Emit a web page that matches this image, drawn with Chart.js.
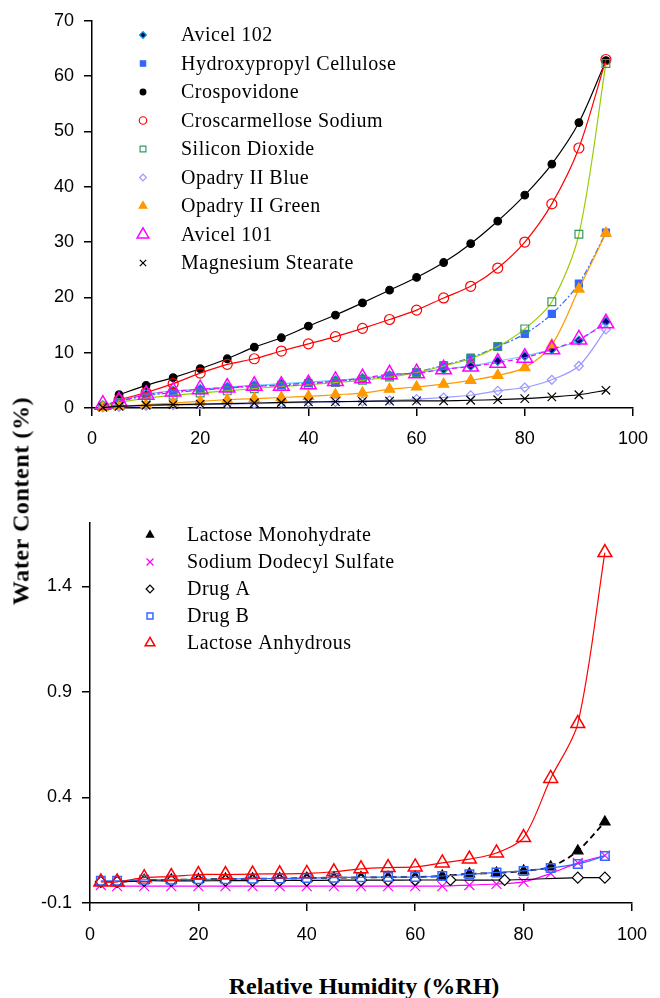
<!DOCTYPE html>
<html><head><meta charset="utf-8">
<script src="https://cdn.jsdelivr.net/npm/chart.js@4.4.0/dist/chart.umd.min.js"></script>
<style>
html,body{margin:0;padding:0;background:#fff;}
#wrap{position:relative;width:660px;height:998px;overflow:hidden;background:#fff;}
#c1{position:absolute;left:0;top:0;}
#c2{position:absolute;left:0;top:460px;}
.ytitle{position:absolute;left:21px;top:501px;transform:translate(-50%,-50%) rotate(-90deg);font:bold 24px "Liberation Serif";letter-spacing:0.6px;white-space:nowrap;color:#000;}
.xtitle{position:absolute;left:364px;top:986px;transform:translate(-50%,-50%);font:bold 24px "Liberation Serif";white-space:nowrap;color:#000;}
</style></head>
<body><div id="wrap">
<canvas id="c1" width="660" height="460"></canvas>
<canvas id="c2" width="660" height="500"></canvas>
<div class="ytitle">Water Content (%)</div>
<div class="xtitle">Relative Humidity (%RH)</div>
</div>
<script>
// ---------- top panel data ----------
const rhTop = [2,5,10,15,20,25,30,35,40,45,50,55,60,65,70,75,80,85,90,95];
const avicel102      = [0.5,1.3,2.5,3.1,3.4,3.8,4.1,4.4,4.7,5.0,5.4,5.9,6.4,7.0,7.6,8.5,9.4,10.6,12.2,15.6];
const hydroxypropyl  = [0.4,1.2,2.2,2.8,3.2,3.6,3.9,4.2,4.5,4.8,5.2,5.8,6.5,7.7,9.1,11.1,13.4,17.0,22.5,31.7];
const crospovidone   = [null,2.4,4.1,5.5,7.1,8.9,11.0,12.7,14.8,16.8,19.0,21.3,23.6,26.3,29.7,33.8,38.5,44.1,51.6,62.8];
const croscarmellose = [null,1.5,2.8,4.4,6.3,7.9,8.9,10.3,11.6,12.9,14.4,16.0,17.7,19.9,22.0,25.3,30.0,36.9,47.0,63.0];
const siliconDioxide = [0.3,1.0,1.8,2.3,2.7,3.1,3.5,3.9,4.2,4.6,5.0,5.6,6.4,7.6,8.9,11.1,14.3,19.2,31.4,62.3];
const opadryBlue     = [0.1,0.2,0.4,0.5,0.6,0.7,0.8,0.9,1.0,1.1,1.2,1.4,1.6,1.9,2.3,3.1,3.7,5.1,7.6,14.2];
const opadryGreen    = [0.1,0.3,0.6,0.9,1.2,1.5,1.7,1.9,2.1,2.4,2.7,3.4,3.8,4.3,5.0,5.9,7.3,11.4,21.5,31.6];
const avicel101      = [0.6,1.2,2.4,3.0,3.4,3.7,4.0,4.0,4.3,4.9,5.4,6.1,6.3,7.0,7.5,8.2,9.1,10.6,12.4,15.3];
const mgStearate     = [0.1,0.3,0.5,0.6,0.7,0.8,0.9,1.0,1.1,1.15,1.2,1.25,1.3,1.3,1.4,1.5,1.7,2.0,2.4,3.2];
const topXTicks = [0,20,40,60,80,100];
const topYTicks = [0,10,20,30,40,50,60,70];

// ---------- bottom panel data ----------
const rhBot = [2,5,10,15,20,25,30,35,40,45,50,55,60,65,70,75,80,85,90,95];
const rhDrugA = [2,5,10,15,20,25,30,35,40,45,50,55,60,66.5,76.5,90,95];
const lactoseMono = [0.0,0.0,0.008,0.01,0.012,0.014,0.015,0.016,0.018,0.02,0.021,0.022,0.023,0.028,0.038,0.042,0.052,0.071,0.147,0.284];
const sds         = [-0.015,-0.02,-0.02,-0.02,-0.02,-0.02,-0.02,-0.02,-0.02,-0.02,-0.02,-0.02,-0.02,-0.02,-0.015,-0.01,0.0,0.04,0.09,0.125];
const drugA       = [0.0,0.0,0.005,0.005,0.005,0.006,0.006,0.007,0.007,0.008,0.008,0.008,0.009,0.009,0.009,0.02,0.02];
const drugB       = [0.005,0.005,0.01,0.01,0.012,0.013,0.015,0.016,0.018,0.02,0.022,0.023,0.023,0.028,0.036,0.045,0.052,0.066,0.085,0.123];
const lactoseAnhy = [0.0,0.0,0.02,0.025,0.035,0.035,0.037,0.038,0.04,0.048,0.062,0.068,0.071,0.09,0.108,0.137,0.21,0.49,0.75,1.56];
const botXTicks = [0,20,40,60,80,100];
const botYTicks = [-0.1,0.4,0.9,1.4];

function pts(xs, ys){ return xs.map((x,i)=>({x:x, y:ys[i]})).filter(p=>p.y!==null); }

function ds(label, xs, ys, o){
  return Object.assign({
    label: label, data: pts(xs, ys), showLine: true, tension: 0.3,
    borderWidth: 1.2, pointBorderWidth: 1.2, clip: false, fill: false
  }, o);
}

const topSets = [
  ds('Avicel 102', rhTop, avicel102, {borderColor:'#66ccff', pointStyle:'rectRot', pointRadius:4.5, pointBackgroundColor:'#000080', pointBorderColor:'#00a0c0'}),
  ds('Hydroxypropyl Cellulose', rhTop, hydroxypropyl, {borderColor:'#3366ff', borderDash:[6,2,2,2], pointStyle:'rect', pointRadius:5, pointBackgroundColor:'#3366ff', pointBorderColor:'#3366ff'}),
  ds('Crospovidone', rhTop, crospovidone, {borderColor:'#000000', pointStyle:'circle', pointRadius:3.8, pointBackgroundColor:'#000000', pointBorderColor:'#000000'}),
  ds('Croscarmellose Sodium', rhTop, croscarmellose, {borderColor:'#ff0000', pointStyle:'circle', pointRadius:5, pointBackgroundColor:'rgba(255,255,255,0)', pointBorderColor:'#ff0000'}),
  ds('Silicon Dioxide', rhTop, siliconDioxide, {borderColor:'#99cc00', pointStyle:'rect', pointRadius:5.5, pointBackgroundColor:'rgba(255,255,255,0)', pointBorderColor:'#339966'}),
  ds('Opadry II Blue', rhTop, opadryBlue, {borderColor:'#9999ff', pointStyle:'rectRot', pointRadius:4.5, pointBackgroundColor:'rgba(255,255,255,0)', pointBorderColor:'#9999ff'}),
  ds('Opadry II Green', rhTop, opadryGreen, {borderColor:'#ff9900', pointStyle:'triangle', pointRadius:6, pointBackgroundColor:'#ff9900', pointBorderColor:'#ff9900'}),
  ds('Avicel 101', rhTop, avicel101, {borderColor:'#ff00ff', borderDash:[5,3], pointStyle:'triangle', pointRadius:9, pointBackgroundColor:'rgba(255,255,255,0)', pointBorderColor:'#ff00ff', pointBorderWidth:1.5}),
  ds('Magnesium Stearate', rhTop, mgStearate, {borderColor:'#000000', pointStyle:'crossRot', pointRadius:6, pointBackgroundColor:'#000000', pointBorderColor:'#000000'})
];
const botSets = [
  ds('Lactose Monohydrate', rhBot, lactoseMono, {borderColor:'#000000', borderWidth:1.8, borderDash:[6,4], pointStyle:'triangle', pointRadius:6, pointBackgroundColor:'#000000', pointBorderColor:'#000000'}),
  ds('Sodium Dodecyl Sulfate', rhBot, sds, {borderColor:'#ff00ff', pointStyle:'crossRot', pointRadius:7, pointBackgroundColor:'#ff00ff', pointBorderColor:'#ff00ff'}),
  ds('Drug A', rhDrugA, drugA, {borderColor:'#000000', pointStyle:'rectRot', pointRadius:5.5, pointBackgroundColor:'#ffffff', pointBorderColor:'#000000'}),
  ds('Drug B', rhBot, drugB, {borderColor:'#3366ff', pointStyle:'rect', pointRadius:6, pointBackgroundColor:'rgba(255,255,255,0)', pointBorderColor:'#3366ff', pointBorderWidth:1.5}),
  ds('Lactose Anhydrous', rhBot, lactoseAnhy, {borderColor:'#ff0000', pointStyle:'triangle', pointRadius:8, pointBackgroundColor:'rgba(255,255,255,0)', pointBorderColor:'#ff0000', pointBorderWidth:1.5})
];
topSets.forEach((d,i)=>{ d.order = topSets.length - i; });
botSets.forEach((d,i)=>{ d.order = botSets.length - i; });

function drawMarker(ctx, d, x, y, r){
  ctx.save();
  ctx.fillStyle = d.pointBackgroundColor;
  ctx.strokeStyle = d.pointBorderColor;
  ctx.lineWidth = d.pointBorderWidth;
  ctx.setLineDash([]);
  if (Chart.helpers && Chart.helpers.drawPoint) {
    Chart.helpers.drawPoint(ctx, {pointStyle: d.pointStyle, radius: r, borderWidth: d.pointBorderWidth, rotation: 0}, x, y);
  } else {
    ctx.beginPath(); ctx.arc(x, y, r, 0, Math.PI*2); ctx.fill(); ctx.stroke();
  }
  ctx.restore();
}

function legendPlugin(mx, tx, y0, dy, scale){
  return {
    id: 'insideLegend',
    afterDraw(chart){
      const ctx = chart.ctx;
      chart.data.datasets.forEach((d, i)=>{
        const y = y0 + i*dy;
        drawMarker(ctx, d, mx, y, d.pointRadius*scale);
        ctx.save();
        ctx.font = '20px "Liberation Serif"';
        try { ctx.letterSpacing = '0.5px'; } catch(e) {}
        ctx.fillStyle = '#000';
        ctx.textBaseline = 'middle';
        ctx.textAlign = 'left';
        ctx.fillText(d.label, tx, y + 1);
        ctx.restore();
      });
    }
  };
}

function xScaleCfg(tickVals, h, pad){
  return {
    type: 'linear', min: 0, max: 100,
    afterBuildTicks: s => { s.ticks = tickVals.map(v => ({value: v})); },
    afterFit: s => { s.height = h; },
    border: {display: true, color: '#000', width: 1.5},
    grid: {display: true, drawOnChartArea: false, drawTicks: true, tickLength: 8, color: '#000', lineWidth: 1.5},
    ticks: {autoSkip: false, maxRotation: 0, color: '#000', padding: pad, font: {family: 'Liberation Sans', size: 18}}
  };
}
function yScaleCfg(min, max, tickVals, w, fmt){
  return {
    type: 'linear', min: min, max: max,
    afterBuildTicks: s => { s.ticks = tickVals.map(v => ({value: v})); },
    afterFit: s => { s.width = w; },
    border: {display: true, color: '#000', width: 1.5},
    grid: {display: true, drawOnChartArea: false, drawTicks: true, tickLength: 8, color: '#000', lineWidth: 1.5},
    ticks: {autoSkip: false, color: '#000', padding: 10, font: {family: 'Liberation Sans', size: 18}, callback: fmt}
  };
}

new Chart(document.getElementById('c1'), {
  type: 'scatter',
  data: {datasets: topSets},
  options: {
    responsive: false, animation: false, events: [],
    layout: {padding: {top: 20, right: 15, left: 0, bottom: 0}},
    plugins: {legend: {display: false}, tooltip: {enabled: false}},
    scales: {
      x: xScaleCfg(topXTicks, 52, 12),
      y: yScaleCfg(0, 70, topYTicks, 92, v => String(v))
    }
  },
  plugins: [legendPlugin(143, 181, 35, 28.5, 0.75)]
});

new Chart(document.getElementById('c2'), {
  type: 'scatter',
  data: {datasets: botSets},
  options: {
    responsive: false, animation: false, events: [],
    layout: {padding: {top: 63, right: 18, left: 0, bottom: 0}},
    plugins: {legend: {display: false}, tooltip: {enabled: false}},
    scales: {
      x: xScaleCfg(botXTicks, 57, 13),
      y: yScaleCfg(-0.1, 1.7, botYTicks, 90, v => Number(v).toFixed(1))
    }
  },
  plugins: [legendPlugin(150, 187, 535 - 460, 27, 0.7)]
});
</script>
</body></html>
